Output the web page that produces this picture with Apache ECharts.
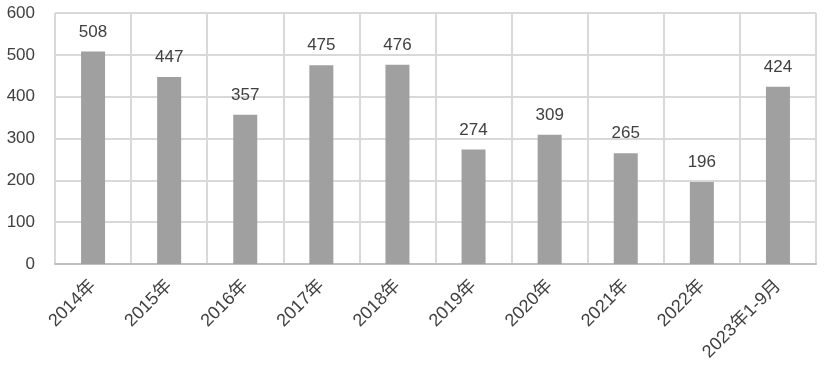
<!DOCTYPE html>
<html><head><meta charset="utf-8">
<script src="https://cdn.jsdelivr.net/npm/echarts@6/dist/echarts.min.js"></script>
<style>html,body{margin:0;padding:0;background:#fff}#c{width:826px;height:366px}</style>
</head><body><div id="c"></div>
<script>
const categories = ['2014年','2015年','2016年','2017年','2018年','2019年','2020年','2021年','2022年','2023年1-9月'];
const values = [508,447,357,475,476,274,309,265,196,424];
const yTicks = {min:0,max:600,interval:100};
const font = "'Liberation Sans','Noto Sans CJK SC',sans-serif";
const chart = echarts.init(document.getElementById('c'));
chart.setOption({
  animation:false,
  grid:{left:55,right:10,top:13,bottom:102,containLabel:false},
  xAxis:{type:'category',data:categories,
    axisLine:{lineStyle:{color:'#bfbfbf',width:2}},
    axisTick:{show:false},
    splitLine:{show:true,lineStyle:{color:'#d9d9d9',width:2}},
    axisLabel:{rotate:45,color:'#404040',fontSize:18,fontFamily:font,interval:0,margin:19}},
  yAxis:{type:'value',min:yTicks.min,max:yTicks.max,interval:yTicks.interval,
    axisLine:{show:false},axisTick:{show:false},
    splitLine:{lineStyle:{color:'#d9d9d9',width:2}},
    axisLabel:{color:'#404040',fontSize:17,fontFamily:font,margin:20}},
  series:[{type:'bar',data:values,barWidth:24,
    itemStyle:{color:'#a0a0a0'},
    label:{show:true,position:'top',distance:11,color:'#404040',fontSize:17,fontFamily:font}}]
});
</script></body></html>
